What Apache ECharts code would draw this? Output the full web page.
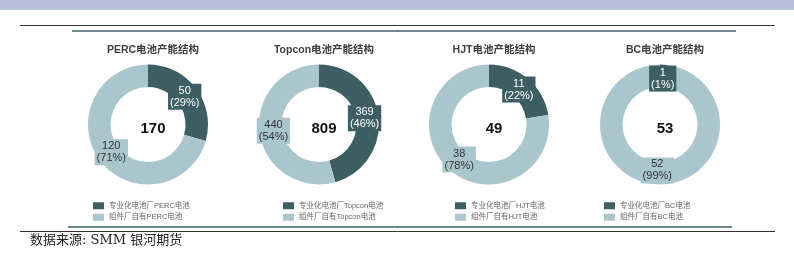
<!DOCTYPE html>
<html><head><meta charset="utf-8">
<script src="https://cdn.jsdelivr.net/npm/echarts@6/dist/echarts.min.js"></script>
<style>html,body{margin:0;padding:0;background:#fff;}#c{width:794px;height:253px;}</style>
</head><body><div id="c"></div>
<script>
const titles = ['PERC电池产能结构', 'Topcon电池产能结构', 'HJT电池产能结构', 'BC电池产能结构'];
const techs = ['PERC', 'Topcon', 'HJT', 'BC'];
const specialized = [50, 369, 11, 1];
const inhouse = [120, 440, 38, 52];
const totals = [170, 809, 49, 53];
const pctSpecialized = ['29%', '46%', '22%', '1%'];
const pctInhouse = ['71%', '54%', '78%', '99%'];
const sourceText = '数据来源: SMM 银河期货';

const DARK = '#3d5f64', LIGHT = '#a9c6cc';
const cx = [148, 319, 489, 660], cy = 124.5;
const legendX = [88, 278, 450, 599];
const FONT = 'Liberation Sans, Arial, Noto Sans CJK SC, sans-serif';

const series = [], title = [], legend = [];
techs.forEach((t, i) => {
  const nSpec = '专业化电池厂' + t + '电池';
  const nIn = '组件厂自有' + t + '电池';
  series.push({
    type: 'pie', silent: true, radius: [37.5, 60], center: [cx[i], cy],
    startAngle: 90, clockwise: true, label: { show: false }, labelLine: { show: false },
    data: [
      { name: nSpec, value: specialized[i], itemStyle: { color: DARK } },
      { name: nIn, value: inhouse[i], itemStyle: { color: LIGHT } }
    ]
  });
  series.push({
    type: 'pie', silent: true, radius: [0, 86], center: [cx[i], cy],
    startAngle: 90, clockwise: true, labelLine: { show: false },
    itemStyle: { color: 'transparent' },
    data: [
      { name: nSpec + '_l', value: specialized[i],
        label: { show: true, position: 'inside', formatter: specialized[i] + '\n(' + pctSpecialized[i] + ')',
          color: '#fff', backgroundColor: DARK, fontSize: 11, lineHeight: 12, padding: [1, 2], fontFamily: FONT } },
      { name: nIn + '_l', value: inhouse[i],
        label: { show: true, position: 'inside', formatter: inhouse[i] + '\n(' + pctInhouse[i] + ')',
          color: '#333', backgroundColor: LIGHT, fontSize: 11, lineHeight: 12, padding: [1, 2], fontFamily: FONT } }
    ]
  });
  title.push({ text: titles[i], left: cx[i], top: 40, textAlign: 'center',
    textStyle: { fontSize: 10.5, fontWeight: 'bold', color: '#404040', fontFamily: FONT } });
  title.push({ text: String(totals[i]), left: cx[i], top: 116, textAlign: 'center',
    textStyle: { fontSize: 15, fontWeight: 'bold', color: '#111', fontFamily: FONT } });
  legend.push({ orient: 'vertical', left: legendX[i], top: 197, itemWidth: 11, itemHeight: 7, itemGap: 4,
    icon: 'rect', selectedMode: false, data: [nSpec, nIn],
    textStyle: { fontSize: 7.5, color: '#666', fontFamily: FONT } });
});

const chart = echarts.init(document.getElementById('c'));
chart.setOption({
  animation: false,
  title, legend, series,
  graphic: [
    { type: 'rect', shape: { x: 0, y: 0, width: 794, height: 10 }, style: { fill: '#b8c0dc' } },
    { type: 'line', shape: { x1: 20, y1: 25.5, x2: 775, y2: 25.5 }, style: { stroke: '#333', lineWidth: 1 } },
    { type: 'line', shape: { x1: 72, y1: 31, x2: 736, y2: 31 }, style: { stroke: '#3d6468', lineWidth: 1.5 } },
    { type: 'line', shape: { x1: 68, y1: 227, x2: 732, y2: 227 }, style: { stroke: '#3d6468', lineWidth: 1.5 } },
    { type: 'line', shape: { x1: 20, y1: 231.5, x2: 775, y2: 231.5 }, style: { stroke: '#333', lineWidth: 1 } },
    { type: 'text', left: 30, top: 234, style: { text: sourceText, fontSize: 13, fill: '#222',
      fontFamily: 'DejaVu Serif, Liberation Serif, Noto Sans CJK SC, serif' } }
  ]
});
</script></body></html>
